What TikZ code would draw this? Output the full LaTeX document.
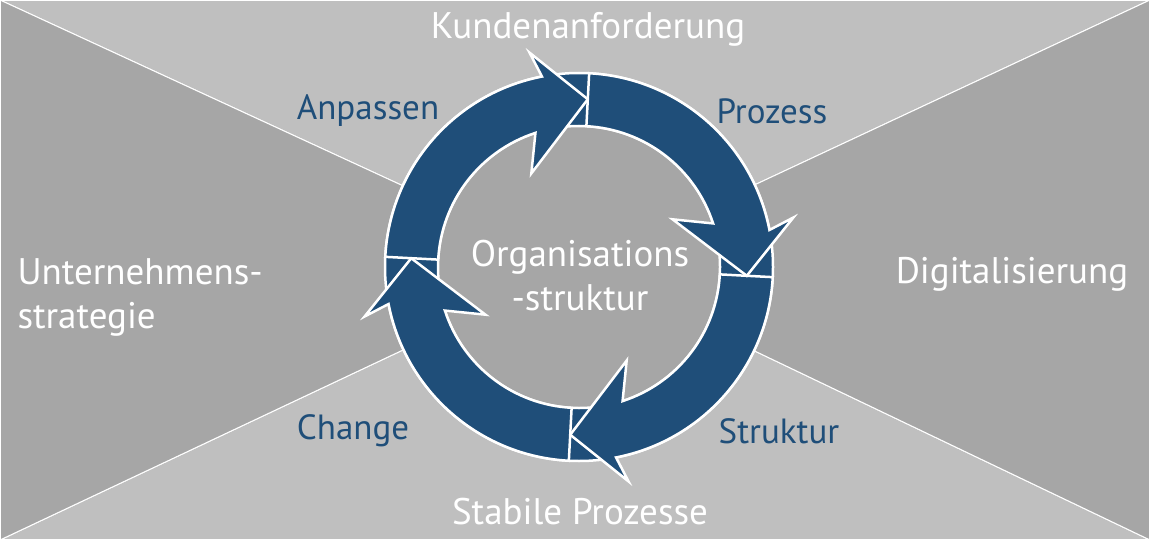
\documentclass[tikz,border=0pt]{standalone}
\usepackage{fontspec}
\setmainfont{PT Sans}
\definecolor{lightgr}{HTML}{BFBFBF}
\definecolor{darkgr}{HTML}{A6A6A6}
\definecolor{ringblue}{HTML}{1F4E79}
\newcommand{\cyclehead}[1]{%
  \filldraw[ring] ($(mid)+(#1+16:220pt)$) -- ($(mid)+(#1:168pt)$)
    -- ($(mid)+(#1+30:105pt)$) -- ($(mid)+(#1+21:141pt)$)
    arc[start angle=#1+21, end angle=#1+90, radius=141pt]
    -- ($(mid)+(#1+90:194pt)$)
    arc[start angle=#1+90, end angle=#1+14, radius=194pt] -- cycle;}
\usetikzlibrary{calc}
\begin{document}
\begin{tikzpicture}[x=1pt,y=-1pt]
  \tikzstyle{ring}=[fill=ringblue,draw=white,line width=2.5pt,line join=miter]
  \tikzstyle{sideface}=[draw=white,line width=1pt]
  \tikzstyle{whitelabel}=[text=white,font=\fontsize{37}{44}\selectfont]
  \tikzstyle{bluelabel}=[text=ringblue,font=\fontsize{35}{40}\selectfont]
  \useasboundingbox (0,0) rectangle (1150,540);
  % background faces
  \coordinate (mid) at (579,267);
  \filldraw[sideface,fill=lightgr] (0,0) -- (1150,0) -- (mid) -- cycle;
  \filldraw[sideface,fill=lightgr] (0,540) -- (1150,540) -- (mid) -- cycle;
  \filldraw[sideface,fill=darkgr] (0,0) -- (0,540) -- (mid) -- cycle;
  \filldraw[sideface,fill=darkgr] (1150,0) -- (1150,540) -- (mid) -- cycle;
  \draw[white,line width=1.5pt] (0,0) rectangle (1150,540);
  % cycle
  \filldraw[ring] (mid) circle[radius=194];
  \filldraw[draw=white,line width=2.5pt,fill=darkgr] (mid) circle[radius=141];
  \foreach \tip in {-93,177,87,-3} {\cyclehead{\tip}}
  % labels
  \node[whitelabel] (kunde) at (588,29) {Kundenanforderung};
  \node[whitelabel] (stabil) at (580,512) {Stabile Prozesse};
  \node[whitelabel] (digital) at (1012,274) {Digitalisierung};
  \node[whitelabel,align=left,anchor=west] (strategie) at (14,297) {Unternehmens-\\strategie};
  \node[whitelabel,align=center] (orga) at (580,276) {Organisations\\-struktur};
  \node[bluelabel] (anpassen) at (368,111) {Anpassen};
  \node[bluelabel] (prozess) at (772,111) {Prozess};
  \node[bluelabel] (change) at (353,431) {Change};
  \node[bluelabel] (struktur) at (779,431) {Struktur};
\end{tikzpicture}
\end{document}
